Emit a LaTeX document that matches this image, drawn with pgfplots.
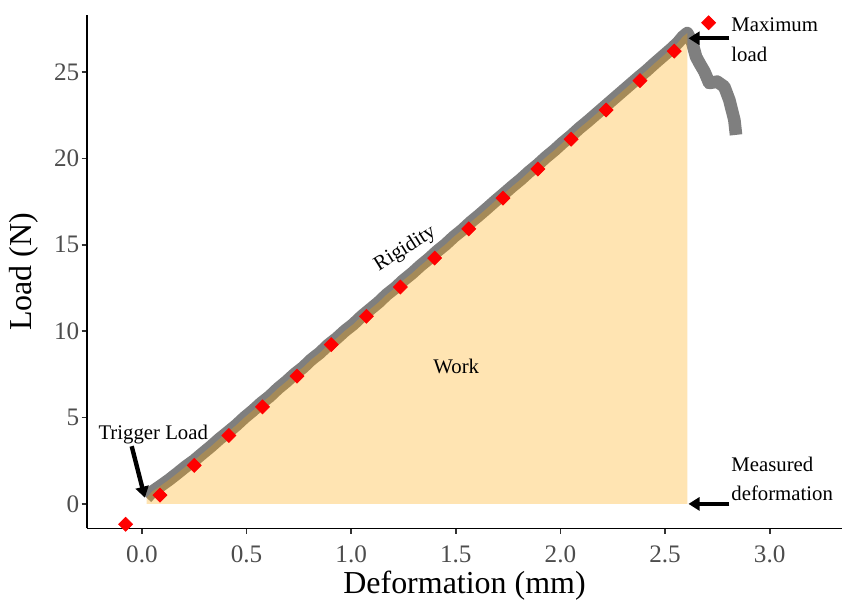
\documentclass[border=0pt]{standalone}
\usepackage{fontspec}
\setmainfont{Liberation Serif}
\usepackage{pgfplots}
\usepackage{pgfplotstable}
\pgfplotsset{compat=1.18}
\usetikzlibrary{arrows.meta}

\definecolor{linegrey}{HTML}{7F7F7F}
\definecolor{ticklab}{HTML}{4D4D4D}
\definecolor{tickcol}{HTML}{333333}
\definecolor{workfill}{HTML}{FFA500}

\newcommand{\annotfont}{\fontsize{10.4}{12.5}\selectfont}
\newcommand{\tickfont}{\fontsize{12.6}{15}\selectfont}
\newcommand{\titlefont}{\fontsize{16}{19}\selectfont}

% Load-deformation record of the test
\pgfplotstableread{
x y
0.022 0.36
0.050 0.72
0.086 1.02
0.130 1.40
0.170 1.78
0.210 2.17
0.250 2.52
0.290 2.93
0.330 3.33
0.370 3.76
0.410 4.15
0.450 4.55
0.490 5.00
0.530 5.40
0.570 5.84
0.610 6.22
0.650 6.68
0.690 7.08
0.730 7.52
0.770 7.90
0.810 8.36
0.850 8.74
0.890 9.20
0.930 9.58
0.970 10.02
1.010 10.40
1.050 10.86
1.090 11.26
1.130 11.66
1.170 12.12
1.210 12.50
1.250 12.95
1.290 13.34
1.330 13.78
1.370 14.18
1.410 14.62
1.450 15.01
1.490 15.46
1.530 15.85
1.570 16.30
1.610 16.70
1.650 17.12
1.690 17.55
1.730 17.96
1.770 18.38
1.810 18.78
1.850 19.22
1.890 19.62
1.930 20.06
1.970 20.46
2.010 20.90
2.050 21.30
2.090 21.74
2.130 22.14
2.170 22.56
2.210 22.98
2.250 23.40
2.290 23.82
2.330 24.24
2.370 24.66
2.410 25.06
2.450 25.50
2.490 25.92
2.530 26.34
2.560 26.68
2.585 27.04
2.606 27.25
2.630 26.68
2.648 25.88
2.664 25.52
2.688 25.02
2.711 24.36
2.749 24.44
2.783 24.15
2.807 23.38
2.831 22.23
2.839 21.36
}\curvedata

% Points of the fitted rigidity line
\pgfplotstableread{
x y
-0.078 -1.18
0.086 0.51
0.250 2.23
0.415 3.96
0.576 5.62
0.741 7.39
0.905 9.22
1.073 10.86
1.235 12.55
1.399 14.23
1.562 15.92
1.725 17.70
1.892 19.38
2.051 21.11
2.218 22.80
2.380 24.50
2.544 26.21
2.708 27.85
}\fitdata

\begin{document}
\begin{tikzpicture}
\begin{axis}[
  scale only axis,
  width=378pt, height=256.75pt,
  xmin=-0.263, xmax=3.346,
  ymin=-1.42, ymax=28.27,
  axis lines=left,
  axis line style={-, line width=0.9pt, black},
  xtick={0,0.5,1,1.5,2,2.5,3},
  xticklabels={0.0,0.5,1.0,1.5,2.0,2.5,3.0},
  ytick={0,5,10,15,20,25},
  tick align=outside,
  major tick length=2.6pt,
  minor tick num=0,
  tick style={tickcol, line width=0.8pt},
  /pgf/number format/assume math mode=true,
  tick label style={font=\tickfont, text=ticklab},
  xticklabel style={anchor=north, inner sep=0pt, yshift=-6pt},
  yticklabel style={anchor=east, inner sep=0pt, xshift=-1pt},
  xlabel={Deformation (mm)},
  ylabel={Load (N)},
  xlabel style={font=\titlefont, at={(axis description cs:0.5,-0.112)}, anchor=center},
  ylabel style={font=\titlefont, at={(axis description cs:-0.083,0.5)}, anchor=center, rotate=0},
]
% measured curve
\addplot[linegrey, line width=6.3pt, line join=round] table {\curvedata};
% fitted points
\addplot[red, only marks, mark=square*, mark size=2.45pt,
  mark options={solid, rotate=45, fill=red, draw=none}] table {\fitdata};
% work area under the curve up to the maximum load
\addplot[draw=none, fill=workfill, fill opacity=0.3,
  restrict x to domain=0:2.607] table {\curvedata} \closedcycle;

% annotations
\node[font=\annotfont, rotate=32] at (axis cs:1.258,14.75) {Rigidity};
\node[font=\annotfont] at (axis cs:1.502,7.97) {Work};
\node[font=\annotfont, anchor=base] at (axis cs:0.054,3.73) {Trigger Load};
\draw[-{Triangle[length=5.5pt,width=6.5pt]}, line width=2.2pt]
  (axis cs:-0.049,3.34) -- (axis cs:0.014,0.36);
\node[font=\annotfont, anchor=base west, inner sep=0pt] at (axis cs:2.815,27.33) {Maximum};
\node[font=\annotfont, anchor=base west, inner sep=0pt] at (axis cs:2.815,25.62) {load};
\draw[-{Triangle[length=5.5pt,width=6.5pt]}, line width=2.2pt]
  (axis cs:2.807,26.95) -- (axis cs:2.612,26.95);
\node[font=\annotfont, anchor=base west, inner sep=0pt] at (axis cs:2.815,1.90) {Measured};
\node[font=\annotfont, anchor=base west, inner sep=0pt] at (axis cs:2.815,0.19) {deformation};
\draw[-{Triangle[length=5.5pt,width=6.5pt]}, line width=2.2pt]
  (axis cs:2.807,0.0) -- (axis cs:2.612,0.0);
\end{axis}
\path[use as bounding box]
  ([shift={(-43.5pt,-36pt)}]current axis.south west) rectangle
  ([shift={(0pt,7.75pt)}]current axis.north east);
\end{tikzpicture}
\end{document}
